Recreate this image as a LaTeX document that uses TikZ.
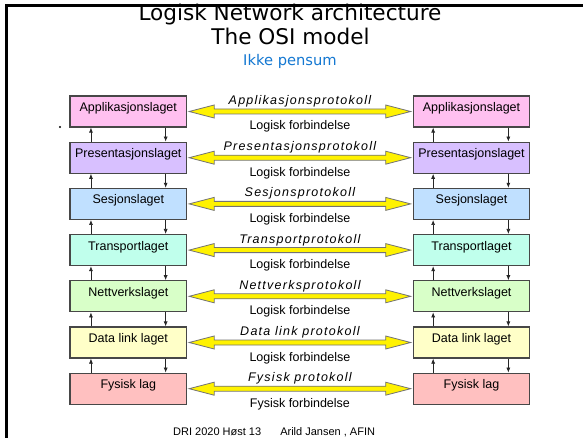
\documentclass[tikz,border=0pt]{standalone}
\usepackage{fontspec}
\setmainfont{Liberation Sans}
\newfontfamily\titlefont{DejaVu Sans}
\newfontfamily\protofont{Liberation Sans}[LetterSpace=10]
\usetikzlibrary{arrows.meta,calc}
\definecolor{cApp}{RGB}{255,192,240}
\definecolor{cPres}{RGB}{216,192,255}
\definecolor{cSes}{RGB}{192,224,255}
\definecolor{cTrans}{RGB}{192,255,236}
\definecolor{cNett}{RGB}{216,255,200}
\definecolor{cData}{RGB}{255,255,200}
\definecolor{cFys}{RGB}{255,192,192}
\definecolor{ikkeblue}{RGB}{20,120,210}
\begin{document}
\begin{tikzpicture}[x=1pt,y=-1pt,
  layer/.style={draw=black!72, line width=1.2pt, minimum width=116.5pt,
    minimum height=31pt, inner sep=0pt, text height=8pt, text depth=8pt,
    font=\fontsize{12.5}{14}\selectfont},
  vert/.style={-{Latex[length=5pt,width=4pt]}, line width=0.7pt, draw=black!85},
  yarrow/.style={fill=yellow, draw=black!55, line width=0.8pt, line join=miter},
  proto/.style={anchor=base, inner sep=0pt, font=\protofont\itshape\fontsize{12.5}{14}\selectfont},
  forb/.style={anchor=base, inner sep=0pt, font=\fontsize{12.5}{14}\selectfont},
  titletext/.style={anchor=base, inner sep=0pt, font=\titlefont\fontsize{21.6}{24}\selectfont}]
\useasboundingbox (0,0) rectangle (583,438);
\fill[white] (0,0) rectangle (583,438);

% titles
\node[titletext] (t1) at (290,20.7) {Logisk Network architecture};
\node[titletext] (t2) at (290.5,45) {The OSI model};
\node[anchor=base, inner sep=0pt, text=ikkeblue, font=\titlefont\fontsize{14.7}{17}\selectfont] (t3) at (290,66) {Ikke pensum};

% frame
\draw[line width=2.6pt, line join=miter] (6.5,438) -- (6.5,5.5) -- (583,5.5);

% layers
\foreach \i/\txt/\col in {1/Applikasjonslaget/cApp, 2/Presentasjonslaget/cPres,
  3/Sesjonslaget/cSes, 4/Transportlaget/cTrans, 5/Nettverkslaget/cNett,
  6/Data link laget/cData, 7/Fysisk lag/cFys}{
  \node[layer, fill=\col] (L\i) at (128.3, {111.5+46.2*(\i-1)}) {\txt};
  \node[layer, fill=\col] (R\i) at (471.5, {111.5+46.2*(\i-1)}) {\txt};
}

% vertical arrows
\foreach \i [evaluate=\i as \j using int(\i+1)] in {1,...,6}{
  \draw[vert] ($(L\j.north west)+(21.5,0)$) -- ($(L\i.south west)+(21.5,0)$);
  \draw[vert] ($(L\i.south east)+(-21.5,0)$) -- ($(L\j.north east)+(-21.5,0)$);
  \draw[vert] ($(R\j.north west)+(20.5,0)$) -- ($(R\i.south west)+(20.5,0)$);
  \draw[vert] ($(R\i.south east)+(-22,0)$) -- ($(R\j.north east)+(-22,0)$);
}

% yellow protocol arrows
\foreach \i in {1,...,7}{
  \draw[yarrow] ($(L\i.east)+(2,0)$) -- ++(25,-6.5) -- ++(0,4)
    -- ($(R\i.west)+(-27,-2.5)$) -- ++(0,-4) -- ($(R\i.west)+(-2,0)$)
    -- ++(-25,6.5) -- ++(0,-4) -- ($(L\i.east)+(27,2.5)$) -- ++(0,4) -- cycle;
}

% protocol labels
\foreach \i/\p/\f in {1/Applikasjonsprotokoll/Logisk forbindelse,
  2/Presentasjonsprotokoll/Logisk forbindelse,
  3/Sesjonsprotokoll/Logisk forbindelse,
  4/Transportprotokoll/Logisk forbindelse,
  5/Nettverksprotokoll/Logisk forbindelse,
  6/Data link protokoll/Logisk forbindelse,
  7/Fysisk protokoll/Fysisk forbindelse}{
  \node[proto] (P\i) at ($(L\i.east)!0.5!(R\i.west)+(0,-7)$) {\p};
  \node[forb] (F\i) at ($(L\i.east)!0.5!(R\i.west)+(0,18.5)$) {\f};
}

% stray bullet dot
\fill (60,127) circle (1.1pt);

% footer
\node[anchor=base west, inner sep=0pt, font=\fontsize{11}{13}\selectfont] (foot) at (173,435)
  {DRI 2020 Høst 13\hspace{16pt} Arild Jansen , AFIN};
\end{tikzpicture}
\end{document}
